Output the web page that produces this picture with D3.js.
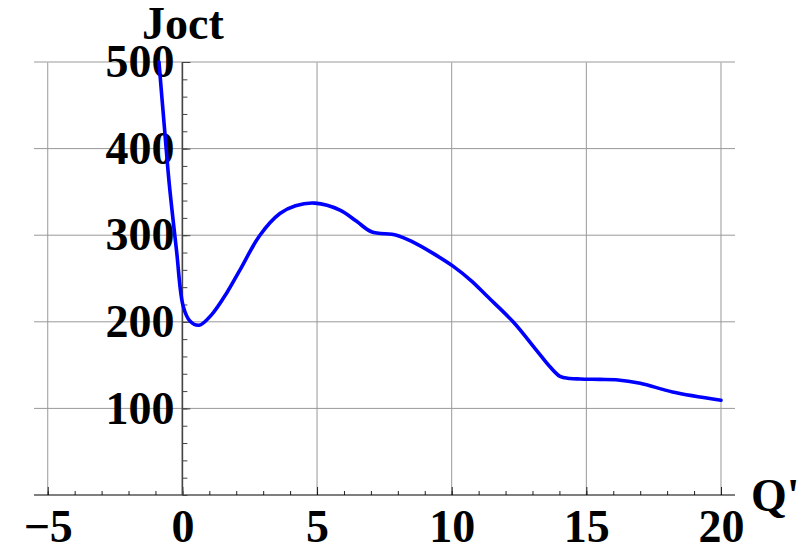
<!DOCTYPE html>
<html>
<head>
<meta charset="utf-8">
<title>Joct vs Q'</title>
<style>
  body { margin: 0; background: #fff; }
  svg text { font-family: "Liberation Serif", "Times New Roman", serif; font-weight: bold; fill: #000; }
</style>
</head>
<body>
<script src="https://cdn.jsdelivr.net/npm/d3@7"></script>
<script>
// values
const qValues = [-0.87, -0.65, -0.49, -0.22, 0.03, 0.28, 0.62, 1.08, 1.64, 2.14, 2.88, 3.62, 4.2, 4.92,
  5.85, 6.47, 7.02, 7.95, 8.57, 9.31, 10.06, 10.74, 11.3, 12.28, 13.15, 13.65, 14.02, 14.39, 14.77,
  15.5, 16.1, 17.0, 18.2, 20.0];
const joctValues = [500, 418, 360, 283, 218, 201, 196, 208, 233, 260, 300, 325, 334, 337,
  329, 316, 304, 300, 292, 279, 264, 247, 230, 200, 167, 148, 137, 134.6, 134,
  133.5, 133, 129, 119, 109.5];

const xTicks = [-5, 0, 5, 10, 15, 20];
const yTicks = [100, 200, 300, 400, 500];
const xMinor = d3.range(-5, 21, 1);
const yMinor = d3.range(0, 501, 20);

const w = 801, h = 550;
const fs = 46;

const x = d3.scaleLinear().domain([-5.51, 20.52]).range([34, 735]);
const y = d3.scaleLinear().domain([0, 500]).range([495, 62]);

const svg = d3.select("body").append("svg")
  .attr("width", w)
  .attr("height", h);

// grid
svg.append("g").selectAll("line")
  .data(xTicks)
  .enter().append("line")
  .attr("x1", d => x(d)).attr("x2", d => x(d))
  .attr("y1", y(500)).attr("y2", y(0))
  .attr("stroke", "#999").attr("stroke-width", 1);

svg.append("g").selectAll("line")
  .data(yTicks)
  .enter().append("line")
  .attr("x1", x.range()[0]).attr("x2", x.range()[1])
  .attr("y1", d => y(d)).attr("y2", d => y(d))
  .attr("stroke", d => d === 500 ? "#bbb" : "#999")
  .attr("stroke-width", d => d === 500 ? 1.6 : 1);

// x axis (ticks pointing up)
const xAxisG = svg.append("g").attr("transform", `translate(0,${y(0)})`);
xAxisG.append("g")
  .call(d3.axisTop(x).tickValues(xMinor).tickSize(4).tickFormat("").tickSizeOuter(0))
  .call(g => g.select(".domain").remove());
xAxisG.append("g")
  .call(d3.axisTop(x).tickValues(xTicks).tickSize(8).tickFormat("").tickSizeOuter(0))
  .call(g => g.select(".domain").remove());
xAxisG.append("line")
  .attr("x1", x.range()[0]).attr("x2", x.range()[1])
  .attr("stroke", "#000").attr("stroke-width", 1.2);
xAxisG.selectAll(".tick line").attr("stroke", "#222");

const xLabels = svg.append("g")
  .attr("transform", `translate(0,${y(0)})`)
  .call(d3.axisBottom(x).tickValues(xTicks).tickSize(0).tickPadding(14)
    .tickFormat(d => d < 0 ? "\u2212" + Math.abs(d) : d));
xLabels.select(".domain").remove();
xLabels.selectAll("text").attr("font-size", fs);

// y axis (ticks pointing right)
const yAxisG = svg.append("g").attr("transform", `translate(${x(0)},0)`);
yAxisG.append("g")
  .call(d3.axisRight(y).tickValues(yMinor).tickSize(5).tickFormat("").tickSizeOuter(0))
  .call(g => g.select(".domain").remove());
yAxisG.append("g")
  .call(d3.axisRight(y).tickValues(yTicks).tickSize(8).tickFormat("").tickSizeOuter(0))
  .call(g => g.select(".domain").remove());
yAxisG.selectAll(".tick line").attr("stroke", "#444");
yAxisG.append("line")
  .attr("y1", y(0)).attr("y2", y(500))
  .attr("stroke", "#444").attr("stroke-width", 1.6);

const yLabels = svg.append("g")
  .attr("transform", `translate(${x(0) - 1},0)`)
  .call(d3.axisLeft(y).tickValues(yTicks).tickSize(0).tickPadding(7));
yLabels.select(".domain").remove();
yLabels.selectAll("text").attr("font-size", fs);

// curve
const line = d3.line()
  .x(d => x(d[0]))
  .y(d => y(d[1]))
  .curve(d3.curveCatmullRom.alpha(0.5));

svg.append("path")
  .datum(d3.zip(qValues, joctValues))
  .attr("d", line)
  .attr("fill", "none")
  .attr("stroke", "#0000ff")
  .attr("stroke-width", 3.6)
  .attr("stroke-linejoin", "round")
  .attr("stroke-linecap", "round");

// axis titles
svg.append("text")
  .attr("x", 142).attr("y", 39)
  .attr("font-size", fs)
  .text("Joct");

svg.append("text")
  .attr("x", 751).attr("y", 511)
  .attr("font-size", fs)
  .text("Q'");
</script>
</body>
</html>
